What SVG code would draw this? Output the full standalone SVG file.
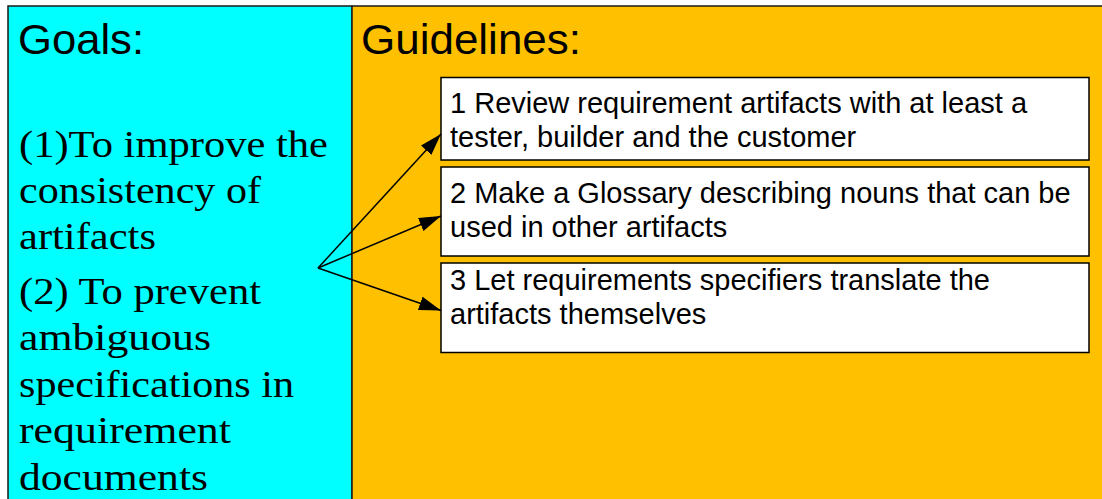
<svg xmlns="http://www.w3.org/2000/svg" width="1102" height="499" viewBox="0 0 1102 499">
  <style>
    .panel { stroke: #1a1a1a; stroke-width: 1.5; }
    .head { font-family: "Liberation Sans", Arial, sans-serif; font-size: 42px; fill: #000; }
    .goal { font-family: "Liberation Serif", "Times New Roman", serif; font-size: 38px; fill: #000; }
    .box { fill: #ffffff; stroke: #000; stroke-width: 1.5; }
    .item { font-family: "Liberation Sans", Arial, sans-serif; font-size: 29px; fill: #000; }
    .link { stroke: #000; stroke-width: 1.5; fill: none; marker-end: url(#head); }
  </style>
  <defs>
    <marker id="head" viewBox="0 0 22 14" refX="22" refY="7" markerWidth="22" markerHeight="14" markerUnits="userSpaceOnUse" orient="auto">
      <path d="M0,0 L22,7 L0,14 z" fill="#000"/>
    </marker>
  </defs>

  <rect width="1102" height="499" fill="#ffffff"/>

  <!-- Goals panel -->
  <g id="goals">
    <rect class="panel" x="8" y="6" width="344" height="500" fill="#00ffff"/>
    <text class="head" x="18" y="54" textLength="126" lengthAdjust="spacingAndGlyphs">Goals:</text>
    <text class="goal" x="19" y="157" textLength="309" lengthAdjust="spacingAndGlyphs">(1)To improve the</text>
    <text class="goal" x="19" y="203" textLength="242" lengthAdjust="spacingAndGlyphs">consistency of</text>
    <text class="goal" x="19" y="249" textLength="137" lengthAdjust="spacingAndGlyphs">artifacts</text>
    <text class="goal" x="19" y="304" textLength="242" lengthAdjust="spacingAndGlyphs">(2) To prevent</text>
    <text class="goal" x="19" y="350" textLength="192" lengthAdjust="spacingAndGlyphs">ambiguous</text>
    <text class="goal" x="19" y="397" textLength="275" lengthAdjust="spacingAndGlyphs">specifications in</text>
    <text class="goal" x="19" y="443" textLength="212" lengthAdjust="spacingAndGlyphs">requirement</text>
    <text class="goal" x="19" y="490" textLength="189" lengthAdjust="spacingAndGlyphs">documents</text>
  </g>

  <!-- Guidelines panel -->
  <g id="guidelines">
    <rect class="panel" x="352" y="6" width="760" height="500" fill="#ffc000"/>
    <text class="head" x="361" y="54" textLength="220" lengthAdjust="spacingAndGlyphs">Guidelines:</text>
  </g>

  <g id="guideline-1">
    <rect class="box" x="441" y="77.5" width="648" height="82.5"/>
    <text class="item" x="450" y="112.5">1 Review requirement artifacts with at least a</text>
    <text class="item" x="450" y="146.5">tester, builder and the customer</text>
  </g>

  <g id="guideline-2">
    <rect class="box" x="441" y="167" width="648" height="89"/>
    <text class="item" x="450" y="202.5">2 Make a Glossary describing nouns that can be</text>
    <text class="item" x="450" y="236.5">used in other artifacts</text>
  </g>

  <g id="guideline-3">
    <rect class="box" x="441" y="263" width="648" height="89.5"/>
    <text class="item" x="450" y="290">3 Let requirements specifiers translate the</text>
    <text class="item" x="450" y="323.5">artifacts themselves</text>
  </g>

  <!-- Connectors from the goals to each guideline -->
  <g id="connectors">
    <line class="link" x1="318" y1="268" x2="441" y2="134"/>
    <line class="link" x1="318" y1="268" x2="441" y2="216"/>
    <line class="link" x1="318" y1="268" x2="441" y2="310.5"/>
  </g>
</svg>
